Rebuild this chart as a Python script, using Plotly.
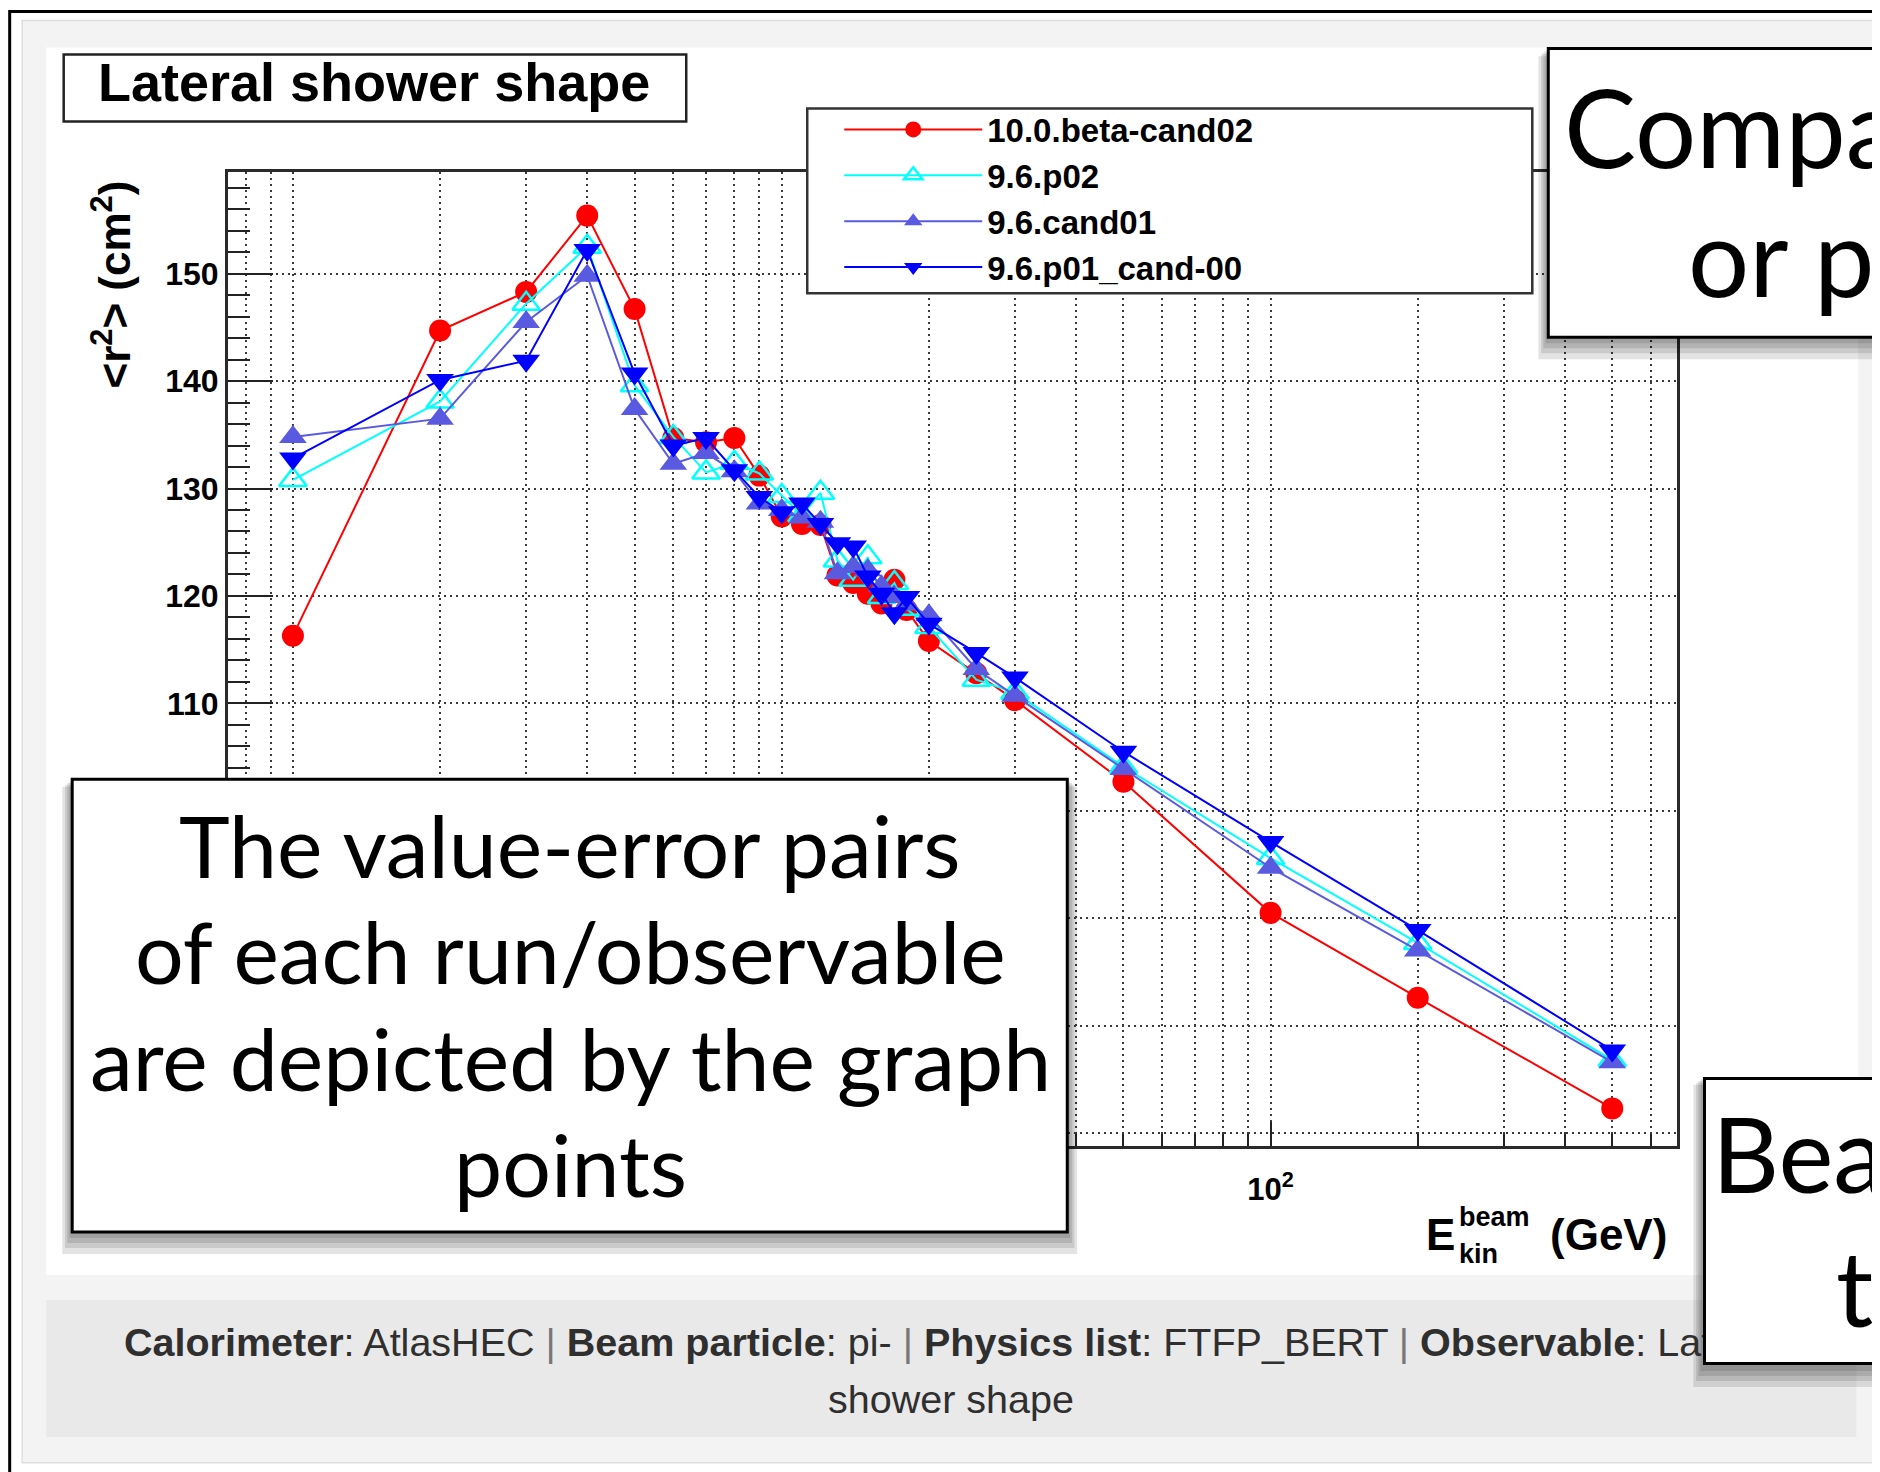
import plotly.graph_objects as go

# ---------------- data ----------------
energy_gev = [1, 2, 3, 4, 5, 6, 7, 8, 9, 10, 11, 12, 13, 14, 15, 16, 17, 18, 20, 25, 30, 50, 100, 200, 500]

r2_10_0_beta_cand02 = [116.3, 144.7, 148.3, 155.4, 146.7, 134.7, 134.3, 134.7, 131.2, 127.4, 126.7, 126.6,
                       121.9, 121.2, 120.2, 119.3, 121.5, 118.7, 115.8, 112.8, 110.3, 102.7, 90.5, 82.6, 72.3]
r2_9_6_p02 = [130.8, 138.1, 147.2, 152.5, 139.6, 134.8, 131.5, 132.4, 131.4, 129.3, 127.5, 129.6,
              123.3, 121.5, 123.6, 119.9, 121.2, 118.8, 117.1, 112.2, 111.0, 104.1, 95.6, 87.7, 76.8]
r2_9_6_cand01 = [134.8, 136.5, 145.5, 149.8, 137.4, 132.3, 133.3, 131.6, 128.6, 128.0, 127.3, 126.9,
                 122.1, 122.7, 122.4, 120.9, 119.9, 119.2, 118.2, 113.2, 110.7, 103.9, 94.7, 87.0, 76.6]
r2_9_6_p01_cand00 = [132.8, 140.1, 141.9, 152.2, 140.7, 134.0, 134.7, 131.7, 129.2, 127.8, 128.6, 126.7,
                     124.9, 124.6, 121.8, 120.2, 118.4, 119.9, 117.4, 114.7, 112.4, 105.5, 97.1, 88.9, 77.7]

series_names = ["10.0.beta-cand02", "9.6.p02", "9.6.cand01", "9.6.p01_cand-00"]
series_values = [r2_10_0_beta_cand02, r2_9_6_p02, r2_9_6_cand01, r2_9_6_p01_cand00]

x_major_ticks = [1, 10, 100]
x_major_labels = ["1", "10", "10<sup>2</sup>"]
x_minor_ticks = [0.8, 0.9, 2, 3, 4, 5, 6, 7, 8, 9, 20, 30, 40, 50, 60, 70, 80, 90,
                 200, 300, 400, 500, 600]
y_major_ticks = [70, 80, 90, 100, 110, 120, 130, 140, 150]
y_minor_ticks = list(range(70, 160, 2))

title_text = "Lateral shower shape"
caption_line1 = ("<b>Calorimeter</b>: AtlasHEC <span style='color:#777'>|</span> <b>Beam particle</b>: pi- "
                 "<span style='color:#777'>|</span> <b>Physics list</b>: FTFP_BERT "
                 "<span style='color:#777'>|</span> <b>Observable</b>: Lateral")
caption_line2 = "shower shape"
note_lines = ["The value-error pairs", "of each run/observable", "are depicted by the graph", "points"]

# ---------------- geometry (window pixels; page body has an 8px margin) ----------------
W, H = 1880, 1472
OFF = 8.0
FRAME_L, FRAME_R, FRAME_T, FRAME_B = 227.8, 1676.7, 171.6, 1146.0
L = FRAME_L - OFF
T = FRAME_T - OFF
R = W - (FRAME_R - OFF)
B = H - (FRAME_B - OFF)
PW = W - L - R
PH = H - T - B


def px(x):
    return (x - OFF - L) / PW


def py(y):
    return (H - B - (y - OFF)) / PH


ROOT_FONT = "Liberation Sans, Arial, sans-serif"
SLIDE_FONT = "Lato, Open Sans, sans-serif"

styles = [
    dict(color="#ff0000", symbol="circle", size=22, mline="#ff0000", mlw=0),
    dict(color="#00ffff", symbol="triangle-up-open", size=24, mline="#00ffff", mlw=2.5),
    dict(color="#5a5ae0", symbol="triangle-up", size=24, mline="#5a5ae0", mlw=0),
    dict(color="#0000ff", symbol="triangle-down", size=24, mline="#0000ff", mlw=0),
]

fig = go.Figure()
for name, vals, st in zip(series_names, series_values, styles):
    fig.add_trace(go.Scatter(
        x=energy_gev, y=vals, name=name, mode="lines+markers",
        line=dict(color=st["color"], width=2.0),
        marker=dict(symbol=st["symbol"], size=st["size"], color=st["color"],
                    line=dict(color=st["mline"], width=st["mlw"])),
    ))

shapes = []


def rect(x0, y0, x1, y1, fill, lc="rgba(0,0,0,0)", lw=0, layer="above"):
    shapes.append(dict(type="rect", xref="paper", yref="paper",
                       x0=px(x0), x1=px(x1), y0=py(y1), y1=py(y0),
                       fillcolor=fill, line=dict(color=lc, width=lw), layer=layer))


def box_shadow(x0, y0, x1, y1):
    for d in [22, 16, 11, 6]:
        rect(x0 - d * 0.45, y0 + d * 0.35, x1 + d * 0.45, y1 + d, "rgba(0,0,0,0.11)")


# page background elements
rect(9.5, 11, 1960, 1560, "rgba(0,0,0,0)", "black", 3, layer="below")
rect(22, 20, 1960, 1463, "#f3f3f3", "#dddddd", 1.5, layer="below")
rect(46, 47, 1858, 1275, "white", layer="below")
rect(46, 1300, 1856, 1437, "#e9e9e9", layer="below")

# ROOT title box and legend frame
rect(63.5, 54, 686, 121, "white", "#222222", 2.5)
rect(807, 108, 1532, 293, "white", "#333333", 2.5)

# slide overlay boxes (shadows + boxes)
box_shadow(1548, 48, 1960, 337)
rect(1548, 48, 1960, 337, "white", "black", 3)
box_shadow(72, 779, 1067, 1232)
rect(72, 779, 1067, 1232, "white", "black", 3)
box_shadow(1703, 1077, 1960, 1365)

annotations = []


def text(x, y, s, size, family=ROOT_FONT, color="black", xanchor="center", yanchor="middle", angle=0,
         weight="normal"):
    annotations.append(dict(xref="paper", yref="paper", x=px(x), y=py(y), text=s, showarrow=False,
                            xanchor=xanchor, yanchor=yanchor, textangle=angle,
                            font=dict(family=family, size=size, color=color, weight=weight)))


# ROOT texts
text(374, 82, title_text, 54, weight="bold")
text(111, 284, "&lt;r<sup>2</sup>&gt; (cm<sup>2</sup>)", 44, weight="bold", angle=-90)
text(1440, 1235, "E", 44, weight="bold")
text(1457, 1217, "beam", 27, weight="bold", xanchor="left")
text(1457, 1254, "kin", 27, weight="bold", xanchor="left")
text(1548, 1235, "(GeV)", 44, weight="bold", xanchor="left")

# caption
text(951, 1342, caption_line1, 39.5, color="#2f2f2f")
text(951, 1399, caption_line2, 39.5, color="#2f2f2f")

# bottom-right slide box drawn as an annotation so it sits over the caption text
annotations.append(dict(xref="paper", yref="paper", x=px(1703), y=py(1077), xanchor="left", yanchor="top",
                        text=" ", showarrow=False, width=400, height=282, bgcolor="white",
                        bordercolor="black", borderwidth=3, borderpad=0,
                        font=dict(family=SLIDE_FONT, size=10)))

# slide overlay texts
text(1562, 126, "Compa", 108, family=SLIDE_FONT, xanchor="left")
text(1686, 255, "or p", 108, family=SLIDE_FONT, xanchor="left")
for i, ln in enumerate(note_lines):
    text(570, 844 + 106.5 * i, ln, 86, family=SLIDE_FONT)
text(1710, 1153, "Bea", 104, family=SLIDE_FONT, xanchor="left")
text(1834, 1287, "t", 104, family=SLIDE_FONT, xanchor="left")

grid_common = dict(gridcolor="#3a3a3a", griddash="2px,4px", gridwidth=1.6)

fig.update_layout(
    width=W, height=H,
    margin=dict(l=L, r=R, t=T, b=B, autoexpand=False),
    paper_bgcolor="white", plot_bgcolor="white",
    showlegend=True,
    legend=dict(x=px(839), y=py(101), xanchor="left", yanchor="top",
                bgcolor="rgba(0,0,0,0)", borderwidth=0, itemwidth=138,
                font=dict(family=ROOT_FONT, size=33, color="black", weight="bold"),
                tracegroupgap=0),
    xaxis=dict(type="log", range=[-0.1328, 2.8314],
               tickmode="array", tickvals=x_major_ticks, ticktext=x_major_labels,
               ticks="inside", ticklen=24, tickwidth=2, tickcolor="#222",
               showgrid=True, **grid_common,
               minor=dict(tickmode="array", tickvals=x_minor_ticks, ticks="inside", ticklen=12,
                          tickwidth=2, tickcolor="#222", showgrid=True, **grid_common),
               showline=True, linecolor="#2a2a2a", linewidth=3, mirror=True, zeroline=False,
               tickfont=dict(family=ROOT_FONT, size=31, color="black", weight="bold"),
               ticklabelstandoff=14),
    yaxis=dict(range=[68.8, 159.46],
               tickmode="array", tickvals=y_major_ticks,
               ticks="inside", ticklen=45, tickwidth=2, tickcolor="#222",
               showgrid=True, **grid_common,
               minor=dict(tickmode="array", tickvals=y_minor_ticks, ticks="inside", ticklen=22,
                          tickwidth=2, tickcolor="#222", showgrid=False),
               showline=True, linecolor="#2a2a2a", linewidth=3, mirror=True, zeroline=False,
               tickfont=dict(family=ROOT_FONT, size=32, color="black", weight="bold"),
               ticklabelstandoff=0),
    shapes=shapes,
    annotations=annotations,
)

fig.write_html("out.html")
